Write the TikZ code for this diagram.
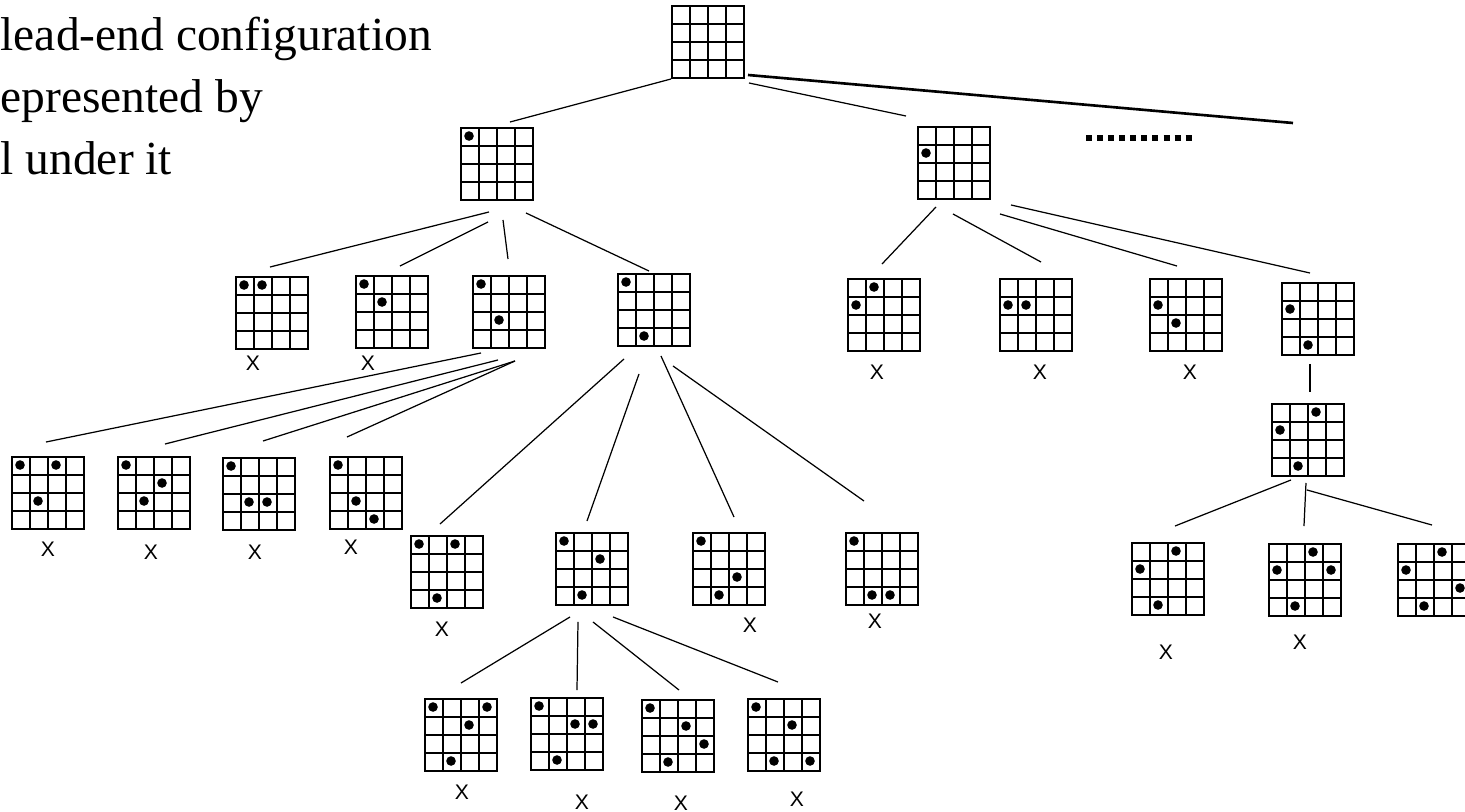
\documentclass[tikz,border=0pt]{standalone}
\usepackage{fontspec}
\setmainfont{Liberation Serif}
\setsansfont{Liberation Sans}
\usetikzlibrary{calc}

% one 4x4 board, top left corner at (#2,#3)
\newcommand{\board}[3]{%
  \node[board] (#1) at (#2+36,#3+36) {};
  \foreach \i in {18,36,54}
    \draw[cell] (#2+\i,#3) -- ++(0,72) (#2,#3+\i) -- ++(72,0);
}
% stones on a board, given as column/row
\newcommand{\stones}[2]{%
  \foreach \c/\r in {#2}
    \fill ($(#1.north west)+(9+18*\c,9+18*\r)$) circle[radius=4.8];
}

\begin{document}
\begin{tikzpicture}[x=0.01cm,y=-0.01cm,
    board/.style={draw,line width=0.55pt,minimum size=0.72cm,inner sep=0pt},
    cell/.style={line width=0.5pt},
    link/.style={line width=0.35pt},
    wide/.style={line width=0.75pt},
    dead/.style={font=\sffamily\fontsize{6}{7}\selectfont,inner sep=0pt},
    note/.style={font=\fontsize{13.5}{16}\selectfont,anchor=base west,inner sep=0pt}]
  \clip (0,0) rectangle (1465,812);

  \node[note] (line1) at (0,51) {lead-end configuration};
  \node[note] (line2) at (0,113) {epresented by};
  \node[note] (line3) at (0,175) {l under it};

  % level 0 and 1
  \board{root}{672}{6}
  \board{A}{461}{128}   \stones{A}{0/0}
  \board{B}{918}{127}   \stones{B}{0/1}
  \coordinate (more) at (1293,123);
  \draw[line width=1.7pt,dash pattern=on 1.7pt off 1.45pt] (1086,138) -- (1196,138);

  % level 2
  \board{A1}{236}{277}  \stones{A1}{0/0,1/0}
  \board{A2}{356}{276}  \stones{A2}{0/0,1/1}
  \board{A3}{473}{276}  \stones{A3}{0/0,1/2}
  \board{A4}{618}{274}  \stones{A4}{0/0,1/3}
  \board{F1}{848}{279}  \stones{F1}{1/0,0/1}
  \board{F2}{1000}{279} \stones{F2}{0/1,1/1}
  \board{F3}{1150}{279} \stones{F3}{0/1,1/2}
  \board{F4}{1282}{283} \stones{F4}{0/1,1/3}

  % level 3
  \board{C1}{12}{457}   \stones{C1}{0/0,2/0,1/2}
  \board{C2}{118}{457}  \stones{C2}{0/0,2/1,1/2}
  \board{C3}{223}{458}  \stones{C3}{0/0,1/2,2/2}
  \board{C4}{330}{457}  \stones{C4}{0/0,1/2,2/3}
  \board{D1}{411}{536}  \stones{D1}{0/0,2/0,1/3}
  \board{D2}{556}{533}  \stones{D2}{0/0,2/1,1/3}
  \board{D3}{693}{533}  \stones{D3}{0/0,2/2,1/3}
  \board{D4}{846}{533}  \stones{D4}{0/0,1/3,2/3}
  \board{G}{1272}{404}  \stones{G}{2/0,0/1,1/3}

  % level 4
  \board{E1}{425}{699}  \stones{E1}{0/0,3/0,2/1,1/3}
  \board{E2}{531}{698}  \stones{E2}{0/0,2/1,3/1,1/3}
  \board{E3}{642}{700}  \stones{E3}{0/0,2/1,3/2,1/3}
  \board{E4}{748}{699}  \stones{E4}{0/0,2/1,1/3,3/3}
  \board{H1}{1132}{543} \stones{H1}{2/0,0/1,1/3}
  \board{H2}{1269}{544} \stones{H2}{2/0,0/1,3/1,1/3}
  \board{H3}{1398}{544} \stones{H3}{2/0,0/1,3/2,1/3}

  % connectors
  \draw[link] (root.south west) -- ([shift={(13,-5)}]A.north);
  \draw[link] ([shift={(4,4)}]root.south east) -- ([shift={(-11,-10)}]B.north west);
  \draw[wide] ([shift={(3,-4)}]root.south east) -- (more);

  \draw[link] ([shift={(-8,11)}]A.south) -- ([shift={(-2,-9)}]A1.north);
  \draw[link] ([shift={(-9,21)}]A.south) -- ([shift={(8,-9)}]A2.north);
  \draw[link] ([shift={(6,19)}]A.south) -- ([shift={(-1,-16)}]A3.north);
  \draw[link] ([shift={(29,12)}]A.south) -- ([shift={(-5,-2)}]A4.north);

  \draw[link] ([shift={(-28,4)}]A3.south) -- ([shift={(-2,-14)}]C1.north);
  \draw[link] ([shift={(-11,11)}]A3.south) -- ([shift={(11,-12)}]C2.north);
  \draw[link] ([shift={(6,12)}]A3.south) -- ([shift={(4,-16)}]C3.north);
  \draw[link] ([shift={(6,12)}]A3.south) -- ([shift={(-19,-19)}]C4.north);

  \draw[link] ([shift={(-30,12)}]A4.south) -- ([shift={(-7,-11)}]D1.north);
  \draw[link] ([shift={(-15,27)}]A4.south) -- ([shift={(-5,-11)}]D2.north);
  \draw[link] ([shift={(7,9)}]A4.south) -- ([shift={(5,-15)}]D3.north);
  \draw[link] ([shift={(19,19)}]A4.south) -- ([shift={(-18,-31)}]D4.north);

  \draw[link] ([shift={(-22,11)}]D2.south) -- ([shift={(0,-15)}]E1.north);
  \draw[link] ([shift={(-14,16)}]D2.south) -- ([shift={(10,-7)}]E2.north);
  \draw[link] ([shift={(1,16)}]D2.south) -- ([shift={(1,-9)}]E3.north);
  \draw[link] ([shift={(21,11)}]D2.south) -- ([shift={(-6,-16)}]E4.north);

  \draw[link] ([shift={(-18,7)}]B.south) -- ([shift={(-2,-14)}]F1.north);
  \draw[link] ([shift={(-1,14)}]B.south) -- ([shift={(5,-16)}]F2.north);
  \draw[link] ([shift={(46,14)}]B.south) -- ([shift={(-9,-12)}]F3.north);
  \draw[link] ([shift={(57,5)}]B.south) -- ([shift={(-8,-9)}]F4.north);

  \draw[link] ([shift={(-8,8)}]F4.south) -- ([shift={(2,-11)}]G.north);
  \draw[link] ([shift={(-17,3)}]G.south) -- ([shift={(7,-16)}]H1.north);
  \draw[link] ([shift={(-2,6)}]G.south) -- ([shift={(-1,-17)}]H2.north);
  \draw[link] ([shift={(-1,13)}]G.south) -- ([shift={(-2,-18)}]H3.north);

  % dead ends
  \node[dead] (xA1) at (253,363) {X};
  \node[dead] (xA2) at (368,363) {X};
  \node[dead] (xC1) at (48,549) {X};
  \node[dead] (xC2) at (151,552) {X};
  \node[dead] (xC3) at (255,552) {X};
  \node[dead] (xC4) at (351,547) {X};
  \node[dead] (xD1) at (442,629) {X};
  \node[dead] (xD3) at (750,625) {X};
  \node[dead] (xD4) at (875,621) {X};
  \node[dead] (xE1) at (462,792) {X};
  \node[dead] (xE2) at (582,802) {X};
  \node[dead] (xE3) at (681,803) {X};
  \node[dead] (xE4) at (797,799) {X};
  \node[dead] (xF1) at (877,372) {X};
  \node[dead] (xF2) at (1040,372) {X};
  \node[dead] (xF3) at (1190,372) {X};
  \node[dead] (xH1) at (1166,652) {X};
  \node[dead] (xH2) at (1300,642) {X};
\end{tikzpicture}
\end{document}
